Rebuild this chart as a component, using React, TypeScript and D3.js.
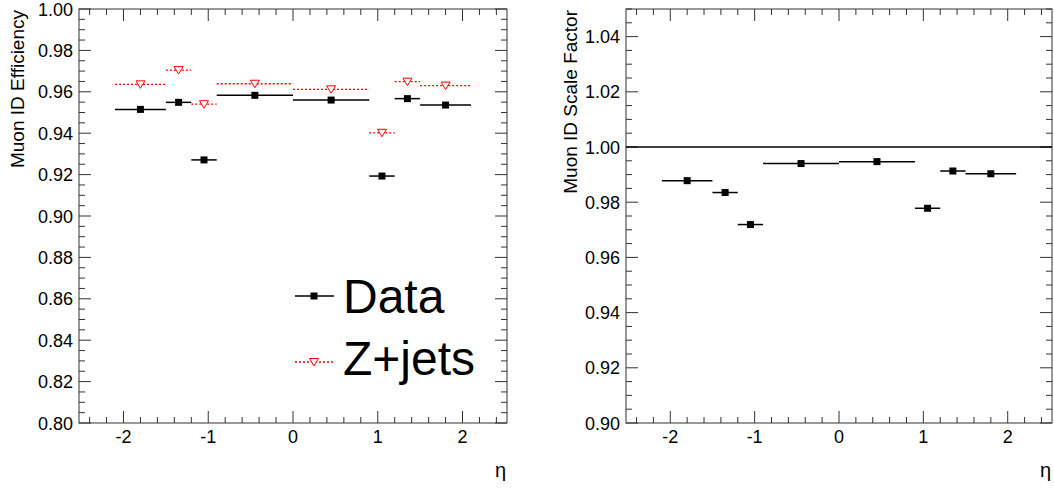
import { useEffect, useRef } from 'react';
import * as d3 from 'd3';

// eta bin edges and measured values
const etaEdges = [-2.1, -1.5, -1.2, -0.9, 0, 0.9, 1.2, 1.5, 2.1];
const dataEff = [0.9515, 0.9549, 0.9271, 0.9583, 0.956, 0.9193, 0.9567, 0.9536];
const dataErr = [0.0006, 0.0008, 0.0008, 0.0005, 0.0005, 0.0008, 0.0008, 0.0006];
const zjetsEff = [0.9636, 0.9705, 0.954, 0.9639, 0.9612, 0.9402, 0.9649, 0.963];
const scaleFactor = [0.9878, 0.9835, 0.9719, 0.994, 0.9947, 0.9778, 0.9913, 0.9903];
const sfErr = [0.0008, 0.0009, 0.0009, 0.0006, 0.0006, 0.0009, 0.0009, 0.0007];
const xTicks = [-2, -1, 0, 1, 2];
const effTicks = [0.8, 0.82, 0.84, 0.86, 0.88, 0.9, 0.92, 0.94, 0.96, 0.98, 1.0];
const sfTicks = [0.9, 0.92, 0.94, 0.96, 0.98, 1.0, 1.02, 1.04];

const FONT = "'Liberation Sans', Arial, Helvetica, sans-serif";

type Panel = {
  left: number;
  right: number;
  yDomain: [number, number];
  yTicks: number[];
  yTitle: string;
  titleX: number;
};

const App = () => {
  const ref = useRef<SVGSVGElement>(null);

  useEffect(() => {
    const svg = d3.select(ref.current);
    svg.selectAll('*').remove();

    const top = 9;
    const bottom = 423;

    const bins = etaEdges.slice(0, -1).map((lo, i) => ({ lo, hi: etaEdges[i + 1], c: (lo + etaEdges[i + 1]) / 2 }));

    const drawFrame = (p: Panel) => {
      const x = d3.scaleLinear().domain([-2.525, 2.525]).range([p.left, p.right]);
      const y = d3.scaleLinear().domain(p.yDomain).range([bottom, top]);
      const g = svg.append('g');

      g.append('rect')
        .attr('x', p.left).attr('y', top)
        .attr('width', p.right - p.left).attr('height', bottom - top)
        .attr('fill', 'none').attr('stroke', '#333').attr('stroke-width', 1);

      // x ticks: major every 1, minor every 0.2, mirrored on top
      const xMinor = d3.range(-24, 25, 2).map(v => v / 10);
      xMinor.forEach(v => {
        const major = Math.abs(v - Math.round(v)) < 1e-6;
        const len = major ? 12 : 6;
        g.append('line').attr('x1', x(v)).attr('x2', x(v)).attr('y1', bottom).attr('y2', bottom - len)
          .attr('stroke', '#333');
        g.append('line').attr('x1', x(v)).attr('x2', x(v)).attr('y1', top).attr('y2', top + len)
          .attr('stroke', '#333');
      });
      g.selectAll('.xl').data(xTicks).enter().append('text')
        .attr('x', d => x(d)).attr('y', 443)
        .attr('text-anchor', 'middle')
        .attr('font-family', FONT).attr('font-size', 18)
        .text(d => String(d));

      // y ticks: major every 0.02, minor every 0.005, mirrored on right
      const [y0, y1] = p.yDomain;
      const n = Math.round((y1 - y0) / 0.005);
      d3.range(0, n + 1).forEach(i => {
        const v = y0 + i * 0.005;
        const len = i % 4 === 0 ? 12 : 6;
        g.append('line').attr('x1', p.left).attr('x2', p.left + len).attr('y1', y(v)).attr('y2', y(v))
          .attr('stroke', '#333');
        g.append('line').attr('x1', p.right).attr('x2', p.right - len).attr('y1', y(v)).attr('y2', y(v))
          .attr('stroke', '#333');
      });
      g.selectAll('.yl').data(p.yTicks).enter().append('text')
        .attr('x', p.left - 6).attr('y', d => y(d) + 6.5)
        .attr('text-anchor', 'end')
        .attr('font-family', FONT).attr('font-size', 18)
        .text(d => d3.format('.2f')(d));

      g.append('text')
        .attr('transform', `translate(${p.titleX},${top + 1}) rotate(-90)`)
        .attr('text-anchor', 'end')
        .attr('font-family', FONT).attr('font-size', 19)
        .text(p.yTitle);

      g.append('text')
        .attr('x', p.right - 1).attr('y', 477)
        .attr('text-anchor', 'end')
        .attr('font-family', FONT).attr('font-size', 20)
        .text('η');

      return { x, y, g };
    };

    const square = (g: any, cx: number, cy: number) =>
      g.append('rect').attr('x', cx - 3.5).attr('y', cy - 3.5).attr('width', 7).attr('height', 7).attr('fill', '#000');

    const triangle = (g: any, cx: number, cy: number) =>
      g.append('path')
        .attr('d', `M${cx - 4.5},${cy - 3.5}L${cx + 4.5},${cy - 3.5}L${cx},${cy + 4}Z`)
        .attr('fill', '#fff').attr('stroke', '#ff0000').attr('stroke-width', 1);

    // left panel: efficiencies
    const L = drawFrame({ left: 79, right: 507, yDomain: [0.8, 1.0], yTicks: effTicks, yTitle: 'Muon ID Efficiency', titleX: 24 });
    bins.forEach((b, i) => {
      L.g.append('line').attr('x1', L.x(b.lo)).attr('x2', L.x(b.hi))
        .attr('y1', L.y(zjetsEff[i])).attr('y2', L.y(zjetsEff[i]))
        .attr('stroke', '#ff0000').attr('stroke-width', 1.3).attr('stroke-dasharray', '2,2');
      triangle(L.g, L.x(b.c), L.y(zjetsEff[i]));
    });
    bins.forEach((b, i) => {
      L.g.append('line').attr('x1', L.x(b.lo)).attr('x2', L.x(b.hi))
        .attr('y1', L.y(dataEff[i])).attr('y2', L.y(dataEff[i]))
        .attr('stroke', '#000').attr('stroke-width', 1.5);
      L.g.append('line').attr('x1', L.x(b.c)).attr('x2', L.x(b.c))
        .attr('y1', L.y(dataEff[i] - dataErr[i])).attr('y2', L.y(dataEff[i] + dataErr[i]))
        .attr('stroke', '#000').attr('stroke-width', 1.5);
      square(L.g, L.x(b.c), L.y(dataEff[i]));
    });

    // legend
    const leg = L.g.append('g');
    leg.append('line').attr('x1', 295).attr('x2', 334).attr('y1', 296).attr('y2', 296)
      .attr('stroke', '#000').attr('stroke-width', 1.5);
    square(leg, 314, 296);
    leg.append('text').attr('x', 343).attr('y', 313)
      .attr('font-family', FONT).attr('font-size', 48).text('Data');
    leg.append('line').attr('x1', 295).attr('x2', 334).attr('y1', 362).attr('y2', 362)
      .attr('stroke', '#ff0000').attr('stroke-width', 1.3).attr('stroke-dasharray', '2,2');
    triangle(leg, 314, 362);
    leg.append('text').attr('x', 343).attr('y', 375)
      .attr('font-family', FONT).attr('font-size', 48).text('Z+jets');

    // right panel: scale factor
    const R = drawFrame({ left: 626, right: 1052, yDomain: [0.9, 1.05], yTicks: sfTicks, yTitle: 'Muon ID Scale Factor', titleX: 577 });
    R.g.append('line').attr('x1', 626).attr('x2', 1052).attr('y1', R.y(1)).attr('y2', R.y(1))
      .attr('stroke', '#000').attr('stroke-width', 1.5);
    bins.forEach((b, i) => {
      R.g.append('line').attr('x1', R.x(b.lo)).attr('x2', R.x(b.hi))
        .attr('y1', R.y(scaleFactor[i])).attr('y2', R.y(scaleFactor[i]))
        .attr('stroke', '#000').attr('stroke-width', 1.5);
      R.g.append('line').attr('x1', R.x(b.c)).attr('x2', R.x(b.c))
        .attr('y1', R.y(scaleFactor[i] - sfErr[i])).attr('y2', R.y(scaleFactor[i] + sfErr[i]))
        .attr('stroke', '#000').attr('stroke-width', 1.5);
      square(R.g, R.x(b.c), R.y(scaleFactor[i]));
    });
  }, []);

  return (
    <svg ref={ref} width={1054} height={491}
      style={{ position: 'absolute', left: 0, top: 0, background: '#fff' }} />
  );
};

export default App;
